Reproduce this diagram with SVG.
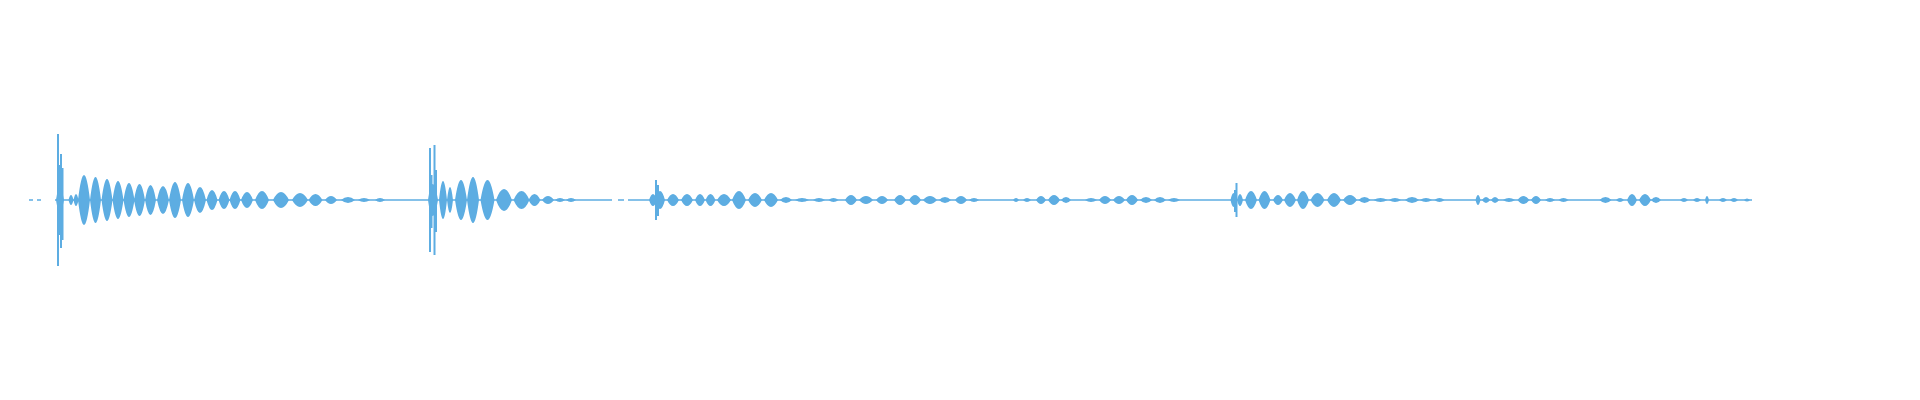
<svg xmlns="http://www.w3.org/2000/svg" width="1920" height="400" viewBox="0 0 1920 400">
<style>.w{fill:#5dade2}.l{stroke:#5dade2;stroke-width:1.3;fill:none}.s{stroke:#5dade2;stroke-width:2}</style>
<rect width="1920" height="400" fill="#fff"/>
<g id="baseline">
<path class="l" d="M29 200H33M37 200H41M55 200H612M618 200H624M628 200H1752" stroke-width="1.5"/>
</g>
<g id="spikes">
<line class="s" x1="58" y1="134" x2="58" y2="266"/>
<line class="s" x1="59.5" y1="165" x2="59.5" y2="235"/>
<line class="s" x1="61" y1="154" x2="61" y2="248"/>
<line class="s" x1="62.5" y1="168" x2="62.5" y2="240"/>
<path class="w" d="M56 200Q59.5 176 64 200Q59.5 224 56 200Z"/>
<line class="s" x1="430" y1="148" x2="430" y2="252"/>
<line class="s" x1="431.5" y1="175" x2="431.5" y2="228"/>
<line class="s" x1="434.5" y1="145" x2="434.5" y2="255"/>
<line class="s" x1="436" y1="170" x2="436" y2="232"/>
<path class="w" d="M428 200Q432.5 168 438 200Q432.5 232 428 200Z"/>
<line class="s" x1="656" y1="180" x2="656" y2="220"/>
<line class="s" x1="658" y1="185" x2="658" y2="216"/>
<line class="s" x1="1235" y1="190" x2="1235" y2="212"/>
<line class="s" x1="1236.5" y1="183" x2="1236.5" y2="217"/>
</g>
<g id="burst1" class="w">
<path d="M68.5 200Q71 190 73.5 200Q71 210 68.5 200ZM73.5 200Q76 188 78.5 200Q76 212 73.5 200ZM78 200Q84 150 90 200Q84 250 78 200ZM90 200Q95.5 154 101 200Q95.5 246 90 200ZM101.5 200Q107 158 112.5 200Q107 242 101.5 200ZM112.5 200Q118 162 123.5 200Q118 238 112.5 200ZM123.5 200Q129 166 134.5 200Q129 234 123.5 200ZM134 200Q139.5 168 145 200Q139.5 232 134 200ZM145 200Q150.5 170 156 200Q150.5 230 145 200ZM157 200Q163 172 169 200Q163 228 157 200ZM169 200Q175 164 181 200Q175 236 169 200ZM182 200Q188 166 194 200Q188 234 182 200ZM194 200Q200 174 206 200Q200 226 194 200ZM206.5 200Q212 180 217.5 200Q212 220 206.5 200ZM218.5 200Q224 182 229.5 200Q224 218 218.5 200ZM229.5 200Q235 182 240.5 200Q235 218 229.5 200ZM241 200Q247 184 253 200Q247 216 241 200ZM255 200Q262 182 269 200Q262 218 255 200ZM273 200Q281 184 289 200Q281 216 273 200ZM292 200Q300 186 308 200Q300 214 292 200ZM308.5 200Q315.5 188 322.5 200Q315.5 212 308.5 200ZM325 200Q331 192 337 200Q331 208 325 200ZM341 200Q348 194 355 200Q348 206 341 200ZM358 200Q364 196 370 200Q364 204 358 200ZM375 200Q380 196 385 200Q380 204 375 200Z"/>
</g>
<g id="burst2" class="w">
<path d="M439 200Q443 162 447 200Q443 238 439 200ZM447 200Q450 174 453 200Q450 226 447 200ZM455 200Q461 160 467 200Q461 240 455 200ZM467 200Q473 154 479 200Q473 246 467 200ZM480.5 200Q487.5 160 494.5 200Q487.5 240 480.5 200ZM496 200Q504 178 512 200Q504 222 496 200ZM513.5 200Q521.5 182 529.5 200Q521.5 218 513.5 200ZM528.5 200Q534.5 188 540.5 200Q534.5 212 528.5 200ZM542 200Q548 192 554 200Q548 208 542 200ZM555 200Q560 196 565 200Q560 204 555 200ZM566 200Q571 196 576 200Q571 204 566 200Z"/>
</g>
<g id="burst3" class="w">
<path d="M649 200Q653 188 657 200Q653 212 649 200ZM655 200Q660 182 665 200Q660 218 655 200ZM667 200Q673 188 679 200Q673 212 667 200ZM681 200Q687 188 693 200Q687 212 681 200ZM695 200Q700 188 705 200Q700 212 695 200ZM705.5 200Q710.5 188 715.5 200Q710.5 212 705.5 200ZM717 200Q724 188 731 200Q724 212 717 200ZM732 200Q739 182 746 200Q739 218 732 200ZM748 200Q755 186 762 200Q755 214 748 200ZM764 200Q771 186 778 200Q771 214 764 200ZM780 200Q786 194 792 200Q786 206 780 200ZM795 200Q802 196 809 200Q802 204 795 200ZM813 200Q819 196 825 200Q819 204 813 200ZM828.5 200Q833.5 196 838.5 200Q833.5 204 828.5 200ZM845 200Q851 190 857 200Q851 210 845 200ZM859 200Q866 192 873 200Q866 208 859 200ZM876 200Q882 192 888 200Q882 208 876 200ZM894 200Q900 190 906 200Q900 210 894 200ZM909 200Q915 190 921 200Q915 210 909 200ZM923 200Q930 192 937 200Q930 208 923 200ZM939 200Q945 194 951 200Q945 206 939 200ZM955 200Q961 192 967 200Q961 208 955 200ZM969 200Q974 196 979 200Q974 204 969 200ZM1013 200Q1016 196 1019 200Q1016 204 1013 200ZM1023 200Q1027 196 1031 200Q1027 204 1023 200ZM1036 200Q1041 192 1046 200Q1041 208 1036 200ZM1048 200Q1054 190 1060 200Q1054 210 1048 200ZM1061 200Q1066 194 1071 200Q1066 206 1061 200ZM1085 200Q1091 196 1097 200Q1091 204 1085 200ZM1099 200Q1105 192 1111 200Q1105 208 1099 200ZM1113 200Q1119 192 1125 200Q1119 208 1113 200ZM1126 200Q1132 190 1138 200Q1132 210 1126 200ZM1140 200Q1146 194 1152 200Q1146 206 1140 200ZM1154 200Q1160 194 1166 200Q1160 206 1154 200ZM1168 200Q1174 196 1180 200Q1174 204 1168 200Z"/>
</g>
<g id="burst4" class="w">
<path d="M1230.5 200Q1233.5 186 1236.5 200Q1233.5 214 1230.5 200ZM1237 200Q1240 188 1243 200Q1240 212 1237 200ZM1245 200Q1251 182 1257 200Q1251 218 1245 200ZM1258.5 200Q1264.5 182 1270.5 200Q1264.5 218 1258.5 200ZM1273 200Q1278 190 1283 200Q1278 210 1273 200ZM1284 200Q1290 186 1296 200Q1290 214 1284 200ZM1297 200Q1303 182 1309 200Q1303 218 1297 200ZM1310.5 200Q1317.5 186 1324.5 200Q1317.5 214 1310.5 200ZM1327 200Q1334 186 1341 200Q1334 214 1327 200ZM1343 200Q1350 190 1357 200Q1350 210 1343 200ZM1358.5 200Q1364.5 194 1370.5 200Q1364.5 206 1358.5 200ZM1373.5 200Q1380.5 196 1387.5 200Q1380.5 204 1373.5 200ZM1389 200Q1395 196 1401 200Q1395 204 1389 200ZM1405 200Q1412 194 1419 200Q1412 206 1405 200ZM1420 200Q1426 196 1432 200Q1426 204 1420 200ZM1434.5 200Q1439.5 196 1444.5 200Q1439.5 204 1434.5 200ZM1475.5 200Q1478 190 1480.5 200Q1478 210 1475.5 200ZM1482 200Q1486 194 1490 200Q1486 206 1482 200ZM1491 200Q1495 194 1499 200Q1495 206 1491 200ZM1503 200Q1509 196 1515 200Q1509 204 1503 200ZM1517.5 200Q1523.5 192 1529.5 200Q1523.5 208 1517.5 200ZM1531 200Q1536 192 1541 200Q1536 208 1531 200ZM1545 200Q1550 196 1555 200Q1550 204 1545 200ZM1558.5 200Q1563.5 196 1568.5 200Q1563.5 204 1558.5 200ZM1599.5 200Q1605.5 194 1611.5 200Q1605.5 206 1599.5 200ZM1616 200Q1620 196 1624 200Q1620 204 1616 200ZM1627 200Q1632 188 1637 200Q1632 212 1627 200ZM1639 200Q1645 188 1651 200Q1645 212 1639 200ZM1651 200Q1656 194 1661 200Q1656 206 1651 200ZM1680 200Q1684 196 1688 200Q1684 204 1680 200ZM1693 200Q1697 196 1701 200Q1697 204 1693 200ZM1705 200Q1707 192 1709 200Q1707 208 1705 200ZM1719 200Q1723 196 1727 200Q1723 204 1719 200ZM1730 200Q1734 196 1738 200Q1734 204 1730 200ZM1744 200Q1747 197 1750 200Q1747 203 1744 200Z"/>
</g>
</svg>
